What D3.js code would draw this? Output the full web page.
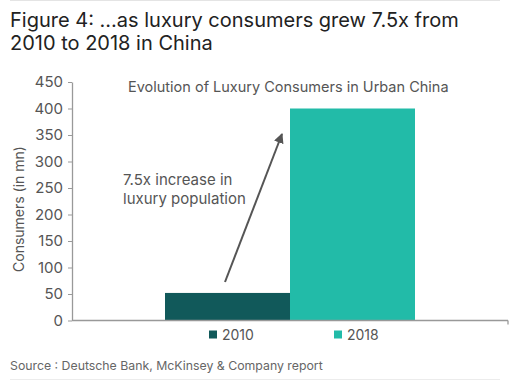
<!DOCTYPE html>
<html>
<head>
<meta charset="utf-8">
<script src="https://cdn.jsdelivr.net/npm/d3@7"></script>
<style>
  html, body { margin: 0; padding: 0; background: #fff; }
  svg { display: block; font-family: Inter, "Noto Sans", sans-serif; }
</style>
</head>
<body>
<svg id="chart" width="532" height="381"></svg>
<script>
const categories = ["Urban China"];
const seriesNames = ["2010", "2018"];
const values2010 = [52];
const values2018 = [400];
const yTicks = [0, 50, 100, 150, 200, 250, 300, 350, 400, 450];
const colors = ["#11595a", "#22bba8"];

const svg = d3.select("#chart");
const grey = "#555";

// frame lines
svg.append("line").attr("x1", 10).attr("x2", 500).attr("y1", 0.5).attr("y2", 0.5)
  .attr("stroke", "#e4e4e4").attr("stroke-width", 1);
svg.append("line").attr("x1", 10).attr("x2", 500).attr("y1", 379.5).attr("y2", 379.5)
  .attr("stroke", "#ececec").attr("stroke-width", 1);

// Title
const title = svg.append("text").attr("font-size", 20).attr("fill", "#222");
title.append("tspan").attr("x", 10).attr("y", 27).text("Figure 4: \u2026as luxury consumers grew 7.5x from");
title.append("tspan").attr("x", 10).attr("y", 50).text("2010 to 2018 in China");

const margin = { left: 72, right: 508, top: 82, bottom: 320.5 };
const y = d3.scaleLinear().domain([0, 450]).range([margin.bottom, margin.top]);
const x0 = d3.scaleBand().domain(categories).range([margin.left, margin.right])
  .paddingInner(0).paddingOuter(0.372);
const x1 = d3.scaleBand().domain(seriesNames).range([0, x0.bandwidth()]).padding(0);
const color = d3.scaleOrdinal().domain(seriesNames).range(colors);

const rows = categories.map((c, i) => ({ cat: c, vals: [
  { key: "2010", value: values2010[i] },
  { key: "2018", value: values2018[i] }
]}));

// bars
const g = svg.append("g");
g.selectAll("g.cat").data(rows).join("g").attr("class", "cat")
  .attr("transform", d => `translate(${x0(d.cat)},0)`)
  .selectAll("rect").data(d => d.vals).join("rect")
  .attr("x", d => x1(d.key))
  .attr("y", d => y(d.value))
  .attr("width", x1.bandwidth())
  .attr("height", d => y(0) - y(d.value))
  .attr("fill", d => color(d.key));

// y axis
const yAxis = d3.axisLeft(y).tickValues(yTicks).tickSize(4).tickPadding(5).tickSizeOuter(0);
const ya = svg.append("g").attr("transform", `translate(${margin.left},0)`).call(yAxis);
ya.select(".domain").attr("stroke", "#999").attr("stroke-width", 1.3);
ya.selectAll(".tick line").attr("stroke", "#999");
ya.selectAll(".tick text").attr("font-size", 15).attr("fill", grey).attr("font-family", "Inter, sans-serif");

// x axis
const xa = svg.append("g").attr("transform", `translate(0,${margin.bottom})`);
xa.append("line").attr("x1", margin.left).attr("x2", margin.right)
  .attr("stroke", "#999").attr("stroke-width", 1.3);
xa.append("line").attr("x1", margin.right).attr("x2", margin.right).attr("y1", 0).attr("y2", 4)
  .attr("stroke", "#999").attr("stroke-width", 1.3);

// y label
svg.append("text").attr("transform", "translate(24,209) rotate(-90)")
  .attr("text-anchor", "middle").attr("font-size", 14).attr("fill", grey)
  .text("Consumers (in mn)");

// chart title
svg.append("text").attr("x", 128).attr("y", 92).attr("font-size", 14.5).attr("fill", grey)
  .text("Evolution of Luxury Consumers in Urban China");

// annotation
const ann = svg.append("text").attr("font-size", 15).attr("fill", grey);
ann.append("tspan").attr("x", 123).attr("y", 184.5).text("7.5x increase in");
ann.append("tspan").attr("x", 123).attr("y", 203.5).text("luxury population");

// arrow
svg.append("defs").append("marker").attr("id", "ah").attr("viewBox", "0 0 10 10")
  .attr("refX", 9).attr("refY", 5).attr("markerWidth", 5).attr("markerHeight", 5)
  .attr("orient", "auto").attr("markerUnits", "strokeWidth")
  .append("path").attr("d", "M0,0 L10,5 L0,10 Z").attr("fill", "#555");
svg.append("line").attr("x1", 225).attr("y1", 282).attr("x2", 282).attr("y2", 134)
  .attr("stroke", "#555").attr("stroke-width", 2).attr("marker-end", "url(#ah)");

// legend
const lg = svg.append("g");
const lx = [209, 334];
seriesNames.forEach((s, i) => {
  lg.append("rect").attr("x", lx[i]).attr("y", 330.5).attr("width", 8).attr("height", 8).attr("fill", colors[i]);
  lg.append("text").attr("x", lx[i] + 13).attr("y", 339.5).attr("font-size", 14).attr("fill", grey).text(s);
});

// source
svg.append("text").attr("x", 10).attr("y", 370).attr("font-size", 12.3).attr("fill", "#666")
  .text("Source : Deutsche Bank, McKinsey & Company report");
</script>
</body>
</html>
